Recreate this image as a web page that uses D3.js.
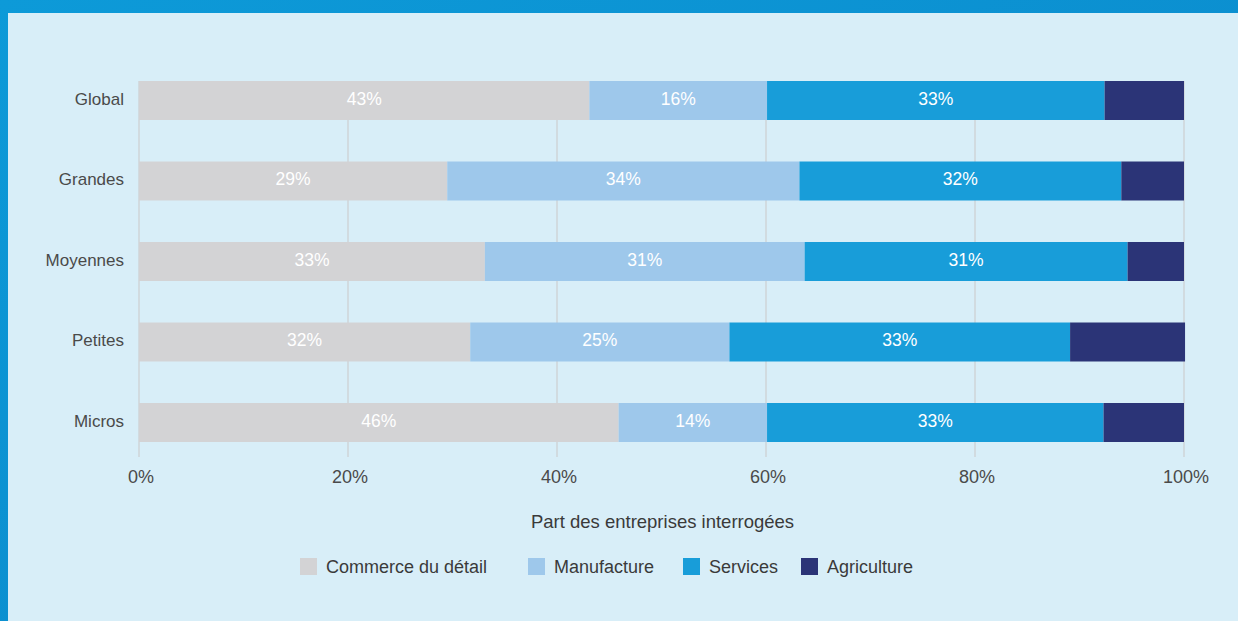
<!DOCTYPE html>
<html>
<head>
<meta charset="utf-8">
<script src="https://cdn.jsdelivr.net/npm/d3@7"></script>
<style>
  html, body { margin: 0; padding: 0; }
  body { width: 1238px; height: 621px; overflow: hidden; }
  text { font-family: "Liberation Sans", Arial, sans-serif; }
</style>
</head>
<body>
<div id="plot"></div>
<script>
// Data
const categories = ["Global", "Grandes", "Moyennes", "Petites", "Micros"];
const series = ["Commerce du détail", "Manufacture", "Services", "Agriculture"];
const commerce = [43.1, 29.5, 33.1, 31.7, 45.9];
const manufacture = [17.0, 33.7, 30.6, 24.8, 14.2];
const services = [32.3, 30.8, 30.9, 32.6, 32.2];
const agriculture = [7.6, 6.0, 5.4, 11.0, 7.7];
// labels as printed on the bars
const commerceLabels = ["43%", "29%", "33%", "32%", "46%"];
const manufactureLabels = ["16%", "34%", "31%", "25%", "14%"];
const servicesLabels = ["33%", "32%", "31%", "33%", "33%"];
const ticks = [0, 20, 40, 60, 80, 100];
const colors = ["#d3d3d5", "#9ec8eb", "#189dd9", "#2b3477"];

const W = 1238, H = 621;

const svg = d3.select("#plot")
    .append("svg")
    .attr("width", W)
    .attr("height", H);

// backdrop
const defs = svg.append("defs");
const grad = defs.append("linearGradient").attr("id", "bg")
    .attr("x1", 0).attr("y1", 0).attr("x2", 1).attr("y2", 1);
grad.append("stop").attr("offset", "0%").attr("stop-color", "#0d9ad8");
grad.append("stop").attr("offset", "100%").attr("stop-color", "#0a86c9");
svg.append("rect").attr("width", W).attr("height", H).attr("fill", "url(#bg)");
svg.append("rect")
    .attr("x", 8).attr("y", 13)
    .attr("width", W - 8).attr("height", H - 13)
    .attr("fill", "#d8eef8");

const x = d3.scaleLinear().domain([0, 100]).range([139, 1184]);
// band step ~80.5, bar height 39
const y = d3.scaleBand().domain(categories)
    .range([81, 442]).paddingInner(41.5 / 80.5).paddingOuter(0);

// gridlines
svg.selectAll("line.grid").data(ticks).enter().append("line")
    .attr("class", "grid")
    .attr("x1", (d) => x(d)).attr("x2", (d) => x(d))
    .attr("y1", 81).attr("y2", 457)
    .attr("stroke", "#cfd5d9")
    .attr("stroke-width", 1.5);

// stack
const table = categories.map((c, i) => ({
    cat: c,
    "Commerce du détail": commerce[i],
    "Manufacture": manufacture[i],
    "Services": services[i],
    "Agriculture": agriculture[i]
}));
const stacked = d3.stack().keys(series)(table);
const labelSets = [commerceLabels, manufactureLabels, servicesLabels, null];

stacked.forEach((layer, k) => {
    svg.selectAll("rect.s" + k).data(layer).enter().append("rect")
        .attr("class", "s" + k)
        .attr("x", (d) => x(d[0]))
        .attr("y", (d) => y(d.data.cat))
        .attr("width", (d) => x(d[1]) - x(d[0]))
        .attr("height", y.bandwidth())
        .attr("fill", colors[k]);

    if (labelSets[k]) {
        svg.selectAll("text.l" + k).data(layer).enter().append("text")
            .attr("class", "l" + k)
            .attr("x", (d) => (x(d[0]) + x(d[1])) / 2)
            .attr("y", (d) => y(d.data.cat) + y.bandwidth() / 2 + 4)
            .attr("text-anchor", "middle")
            .attr("fill", "#ffffff")
            .attr("font-size", 17.5)
            .text((d, i) => labelSets[k][i]);
    }
});

// category labels
svg.selectAll("text.cat").data(categories).enter().append("text")
    .attr("class", "cat")
    .attr("x", 124)
    .attr("y", (d) => y(d) + y.bandwidth() / 2 + 4)
    .attr("text-anchor", "end")
    .attr("fill", "#4a4a4a")
    .attr("font-size", 17)
    .text((d) => d);

// x tick labels
svg.selectAll("text.tick").data(ticks).enter().append("text")
    .attr("class", "tick")
    .attr("x", (d) => x(d) + 2)
    .attr("y", 483)
    .attr("text-anchor", "middle")
    .attr("fill", "#4a4a4a")
    .attr("font-size", 18)
    .text((d) => d + "%");

// axis title
svg.append("text")
    .attr("x", x(50) + 1)
    .attr("y", 528)
    .attr("text-anchor", "middle")
    .attr("fill", "#3a3a3a")
    .attr("font-size", 18.5)
    .text("Part des entreprises interrogées");

// legend
const legendX = [300, 528, 683, 801];
const legend = svg.selectAll("g.leg").data(series).enter().append("g")
    .attr("class", "leg")
    .attr("transform", (d, i) => "translate(" + legendX[i] + ",558)");
legend.append("rect")
    .attr("width", 17).attr("height", 17)
    .attr("fill", (d, i) => colors[i]);
legend.append("text")
    .attr("x", 26)
    .attr("y", 15)
    .attr("fill", "#3a3a3a")
    .attr("font-size", 18)
    .text((d) => d);
</script>
</body>
</html>
